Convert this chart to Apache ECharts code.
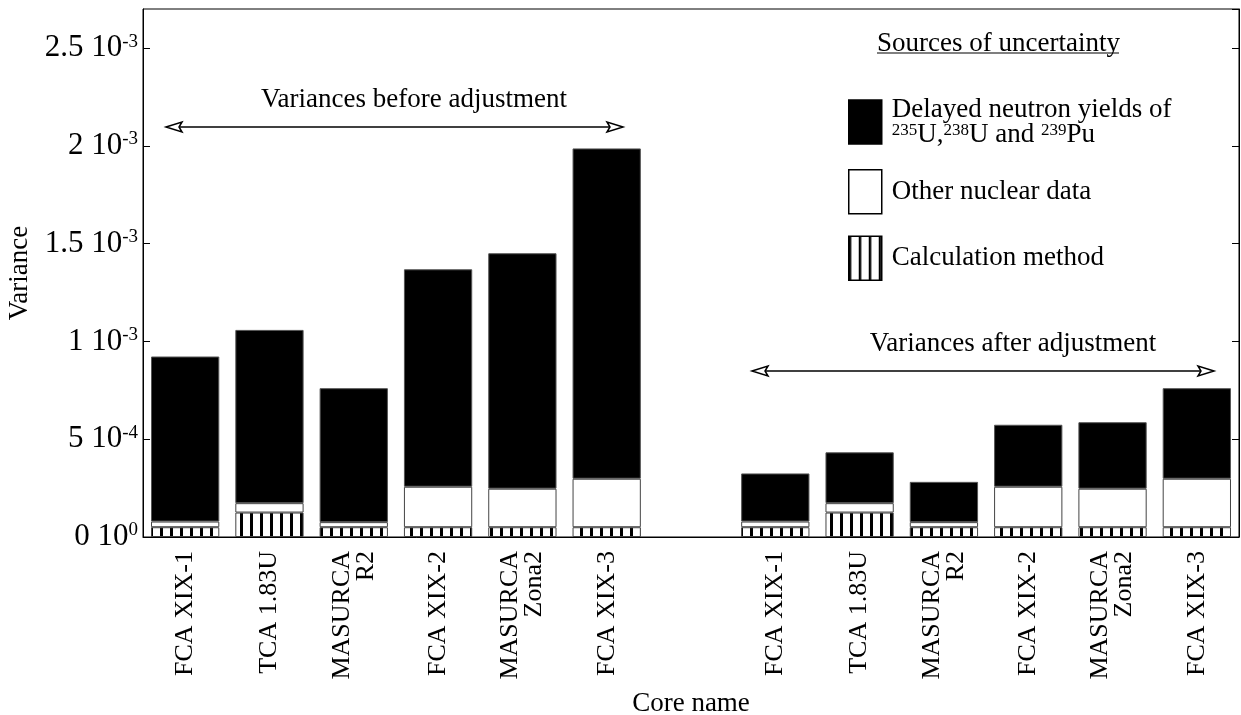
<!DOCTYPE html>
<html><head><meta charset="utf-8">
<script src="https://cdn.jsdelivr.net/npm/echarts@6/dist/echarts.min.js"></script>
<style>html,body{margin:0;padding:0;background:#fff}#c{width:1241px;height:715px}</style>
</head><body><div id="c"></div>
<script>
// ---- data ----
const categories = ['FCA XIX-1','TCA 1.83U','MASURCA\nR2','FCA XIX-2','MASURCA\nZona2','FCA XIX-3','',
                    'FCA XIX-1','TCA 1.83U','MASURCA\nR2','FCA XIX-2','MASURCA\nZona2','FCA XIX-3'];
const calcMethod     = [0.000050,0.000125,0.000050,0.000050,0.000050,0.000050,'-',
                        0.000050,0.000125,0.000050,0.000050,0.000050,0.000050];
const otherNuclear   = [0.000029,0.000048,0.000026,0.000207,0.000197,0.000248,'-',
                        0.000029,0.000048,0.000026,0.000207,0.000197,0.000248];
const delayedNeutron = [0.000844,0.000886,0.000685,0.001112,0.001204,0.001689,'-',
                        0.000246,0.000260,0.000206,0.000317,0.000340,0.000463];
const yTickValues   = [0, 0.0005, 0.001, 0.0015, 0.002, 0.0025];
const yTickMantissa = ['0','5','1','1.5','2','2.5'];
const yTickExponent = ['0','-4','-3','-3','-3','-3'];
const seriesNames = ['Calculation method','Other nuclear data','Delayed neutron yields'];

const FONT = '"Liberation Serif", "Times New Roman", serif';

// hatch pattern (vertical stripes)
const hatch = document.createElement('canvas');
hatch.width = 10; hatch.height = 10;
const hc = hatch.getContext('2d');
hc.fillStyle = '#fff'; hc.fillRect(0,0,10,10);
hc.fillStyle = '#000'; hc.fillRect(0,0,3,10);
const hatchLegend = document.createElement('canvas');
hatchLegend.width = 10; hatchLegend.height = 10;
const hl = hatchLegend.getContext('2d');
hl.fillStyle = '#fff'; hl.fillRect(0,0,10,10);
hl.fillStyle = '#000'; hl.fillRect(0,0,2.5,10);

const chart = echarts.init(document.getElementById('c'), null, {renderer:'canvas'});

function arrowHead(x, y, dir) {
  return {
    type: 'polygon',
    shape: { points: [[x, y], [x - dir*16, y - 5], [x - dir*13, y], [x - dir*16, y + 5]] },
    style: { fill: '#fff', stroke: '#000', lineWidth: 1.5 },
    z: 100
  };
}

const option = {
  animation: false,
  backgroundColor: '#fff',
  textStyle: { fontFamily: FONT, color: '#000' },
  grid: { left: 143, right: 2, top: 9, bottom: 178, show: true, borderColor: '#000', borderWidth: 1,
          outerBoundsMode: 'none' },
  title: {
    text: 'Sources of uncertainty', left: 877, top: 30, padding: 0,
    textStyle: { fontFamily: FONT, fontSize: 27, fontWeight: 'normal', color: '#000' }
  },
  legend: {
    orient: 'vertical', left: 843, top: 91, itemWidth: 33, itemHeight: 44, itemGap: 21,
    icon: 'rect', selectedMode: false,
    data: [
      { name: seriesNames[2], icon: 'rect', itemStyle: { color: '#000', borderColor: '#000', borderWidth: 1.5 } },
      { name: seriesNames[1], icon: 'rect', itemStyle: { color: '#fff', borderColor: '#000', borderWidth: 1.5 } },
      { name: seriesNames[0], icon: 'rect', itemStyle: { color: { image: hatchLegend, repeat: 'repeat' }, borderColor: '#000', borderWidth: 1.5 } }
    ],
    formatter: function (name) {
      if (name === seriesNames[2]) {
        return '{t|Delayed neutron yields of}\n{s|235}{t|U,}{s|238}{t|U and }{s|239}{t|Pu}';
      }
      return '{t|' + name + '}';
    },
    textStyle: {
      fontFamily: FONT, fontSize: 27, color: '#000', padding: [0,0,0,5],
      rich: {
        t: { fontFamily: FONT, fontSize: 27, lineHeight: 25, color: '#000' },
        s: { fontFamily: FONT, fontSize: 17, lineHeight: 12, verticalAlign: 'top', color: '#000' }
      }
    }
  },
  xAxis: {
    type: 'category', data: categories,
    name: 'Core name', nameLocation: 'middle', nameGap: 153,
    nameTextStyle: { fontFamily: FONT, fontSize: 27, color: '#000' },
    axisLine: { lineStyle: { color: '#000', width: 1 } },
    axisTick: { show: false },
    axisLabel: { rotate: 90, fontFamily: FONT, fontSize: 26, color: '#000', margin: 14, lineHeight: 24, interval: 0 }
  },
  yAxis: [{
    type: 'value', min: 0, max: 0.0027, interval: 0.0005,
    name: 'Variance', nameLocation: 'middle', nameGap: 107,
    nameTextStyle: { fontFamily: FONT, fontSize: 27, color: '#000' },
    axisLine: { show: true, lineStyle: { color: '#000' } },
    axisTick: { show: true, inside: true, length: 7, lineStyle: { color: '#000' } },
    splitLine: { show: false },
    axisLabel: {
      margin: 5, showMaxLabel: false,
      formatter: function (v) {
        for (let i = 0; i < yTickValues.length; i++) {
          if (Math.abs(v - yTickValues[i]) < 1e-9) return '{m|' + yTickMantissa[i] + ' 10}{e|' + yTickExponent[i] + '}';
        }
        return '';
      },
      rich: {
        m: { fontFamily: FONT, fontSize: 31, lineHeight: 32, color: '#000' },
        e: { fontFamily: FONT, fontSize: 19, lineHeight: 16, verticalAlign: 'top', color: '#000' }
      }
    }
  }, {
    type: 'value', min: 0, max: 0.0027, interval: 0.0005, position: 'right',
    axisLine: { show: true, lineStyle: { color: '#000' } },
    axisTick: { show: true, inside: true, length: 7, lineStyle: { color: '#000' } },
    axisLabel: { show: false }, splitLine: { show: false }
  }],
  series: [
    { name: seriesNames[0], type: 'bar', stack: 'v', data: calcMethod, barCategoryGap: '19%',
      itemStyle: { color: { image: hatch, repeat: 'repeat' }, borderColor: '#444', borderWidth: 1 } },
    { name: seriesNames[1], type: 'bar', stack: 'v', data: otherNuclear,
      itemStyle: { color: '#fff', borderColor: '#444', borderWidth: 1 } },
    { name: seriesNames[2], type: 'bar', stack: 'v', data: delayedNeutron,
      itemStyle: { color: '#000', borderColor: '#555', borderWidth: 1 } }
  ],
  graphic: [
    { type: 'line', shape: { x1: 877, y1: 53, x2: 1119, y2: 53 }, style: { stroke: '#000', lineWidth: 1.2 } },
    { type: 'text', x: 414, y: 100, style: { text: 'Variances before adjustment', font: '27px ' + FONT, fill: '#000', align: 'center', verticalAlign: 'middle' } },
    { type: 'line', shape: { x1: 168, y1: 127, x2: 621, y2: 127 }, style: { stroke: '#000', lineWidth: 1.5 } },
    arrowHead(166, 127, -1), arrowHead(623, 127, 1),
    { type: 'text', x: 1013, y: 344, style: { text: 'Variances after adjustment', font: '27px ' + FONT, fill: '#000', align: 'center', verticalAlign: 'middle' } },
    { type: 'line', shape: { x1: 754, y1: 371, x2: 1212, y2: 371 }, style: { stroke: '#000', lineWidth: 1.5 } },
    arrowHead(752, 371, -1), arrowHead(1214, 371, 1)
  ]
};
chart.setOption(option);
</script>
</body></html>
